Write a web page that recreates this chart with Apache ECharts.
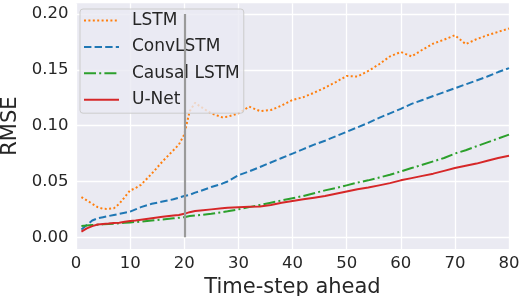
<!DOCTYPE html>
<html>
<head>
<meta charset="utf-8">
<script src="https://cdn.jsdelivr.net/npm/echarts@6/dist/echarts.min.js"></script>
<style>
html,body{margin:0;padding:0;background:#fff;}
#c{width:521px;height:296px;}
</style>
</head>
<body>
<div id="c"></div>
<script>
const steps = [1,2,3,4,5,6,7,8,9,10,11,12,14,16,18,19,20,21,22,23,25,27,28,30,32,34,36,38,40,42,44,46,48,50,52,54,56,58,60,62,64,66,68,70,72,74,76,78,80];
const lstm = [0.036,0.033,0.030,0.027,0.0255,0.0254,0.026,0.030,0.036,0.042,0.044,0.047,0.057,0.068,0.078,0.083,0.092,0.113,0.1205,0.117,0.111,0.1075,0.108,0.111,0.117,0.113,0.114,0.118,0.123,0.1255,0.1295,0.134,0.139,0.1445,0.144,0.149,0.155,0.162,0.166,0.162,0.168,0.1735,0.177,0.181,0.173,0.1775,0.181,0.184,0.187];
const convlstm = [0.007,0.011,0.015,0.017,0.018,0.019,0.020,0.021,0.022,0.023,0.025,0.027,0.030,0.032,0.034,0.0355,0.037,0.038,0.040,0.0415,0.045,0.048,0.050,0.0555,0.059,0.063,0.067,0.071,0.075,0.079,0.083,0.0865,0.0905,0.0945,0.0985,0.1025,0.107,0.111,0.115,0.1195,0.123,0.1265,0.130,0.1335,0.137,0.1405,0.144,0.148,0.1515];
const causal = [0.010,0.0105,0.011,0.0113,0.0116,0.012,0.0122,0.0125,0.013,0.0133,0.0137,0.014,0.015,0.016,0.017,0.0175,0.018,0.019,0.0195,0.020,0.021,0.0225,0.0233,0.025,0.027,0.029,0.031,0.033,0.035,0.037,0.0395,0.042,0.044,0.0465,0.049,0.051,0.0535,0.056,0.059,0.062,0.065,0.068,0.071,0.075,0.078,0.0815,0.085,0.0885,0.092];
const unet = [0.005,0.008,0.010,0.0115,0.012,0.0123,0.0127,0.013,0.014,0.0145,0.015,0.0157,0.017,0.0183,0.0195,0.020,0.021,0.0225,0.0235,0.024,0.025,0.026,0.0265,0.027,0.0273,0.0275,0.029,0.031,0.0325,0.034,0.0355,0.037,0.039,0.041,0.043,0.0445,0.0465,0.0485,0.051,0.053,0.055,0.057,0.0595,0.062,0.064,0.066,0.0685,0.071,0.073];
const seriesNames = ['LSTM','ConvLSTM','Causal LSTM','U-Net'];
const yTicks = [0, 0.05, 0.10, 0.15, 0.20];
const markStep = 20;

const pair = arr => steps.map((s, i) => [s, arr[i]]);
const txt = '#262626';
const font = 'DejaVu Sans';

const chart = echarts.init(document.getElementById('c'), null, {renderer: 'canvas'});
chart.setOption({
  animation: false,
  grid: {left: 76, right: 12, top: 3.3, bottom: 47, show: true, backgroundColor: '#EAEAF2', borderWidth: 0, containLabel: false, outerBoundsMode: 'none'},
  legend: {
    data: seriesNames,
    orient: 'vertical',
    left: 80, top: 9,
    padding: [3, 4, 5, 3],
    itemWidth: 35, itemHeight: 12, itemGap: 9.4,
    itemStyle: {opacity: 0},
    backgroundColor: 'rgba(234,234,242,0.8)',
    borderColor: '#cccccc', borderWidth: 1, borderRadius: 3,
    textStyle: {fontFamily: font, fontSize: 17, color: txt, lineHeight: 12, padding: [0,0,0,8]}
  },
  xAxis: {
    type: 'value', min: 0, max: 80, interval: 10,
    name: 'Time-step ahead', nameLocation: 'middle', nameGap: 20,
    nameTextStyle: {fontFamily: font, fontSize: 21, color: txt},
    axisLine: {show: false}, axisTick: {show: false},
    axisLabel: {fontFamily: font, fontSize: 16.5, color: txt, margin: 6},
    splitLine: {show: true, lineStyle: {color: '#ffffff', width: 1.3}}
  },
  yAxis: {
    type: 'value', min: -0.0105, max: 0.2096,
    name: 'RMSE', nameLocation: 'middle', nameGap: 49,
    nameTextStyle: {fontFamily: font, fontSize: 21, color: txt},
    axisLine: {show: false},
    axisTick: {show: false, customValues: yTicks},
    axisLabel: {fontFamily: font, fontSize: 16.5, color: txt, margin: 7.5, padding: [3, 0, 0, 0], customValues: yTicks, formatter: v => v.toFixed(2)},
    splitLine: {show: true, lineStyle: {color: '#ffffff', width: 1.3}}
  },
  series: [
    {type: 'line', name: '_vline', data: [], z: 1, silent: true,
     markLine: {silent: true, symbol: 'none', label: {show: false},
       lineStyle: {color: '#9a9a9a', width: 2.2, type: 'solid'},
       data: [[{coord: [markStep, yTicks[0]]}, {coord: [markStep, yTicks[yTicks.length - 1]]}]]}},
    {type: 'line', name: seriesNames[0], data: pair(lstm), symbol: 'none', z: 3,
     lineStyle: {color: '#ff7f0e', width: 2, type: [2, 2.4], cap: 'butt'}, itemStyle: {color: '#ff7f0e'}},
    {type: 'line', name: seriesNames[1], data: pair(convlstm), symbol: 'none', z: 3,
     lineStyle: {color: '#1f77b4', width: 2, type: [7.4, 3.2]}, itemStyle: {color: '#1f77b4'}},
    {type: 'line', name: seriesNames[2], data: pair(causal), symbol: 'none', z: 3,
     lineStyle: {color: '#2ca02c', width: 2, type: [12, 3.2, 2, 3.2]}, itemStyle: {color: '#2ca02c'}},
    {type: 'line', name: seriesNames[3], data: pair(unet), symbol: 'none', z: 3,
     lineStyle: {color: '#d62728', width: 2, type: 'solid'}, itemStyle: {color: '#d62728'}}
  ]
});
</script>
</body>
</html>
